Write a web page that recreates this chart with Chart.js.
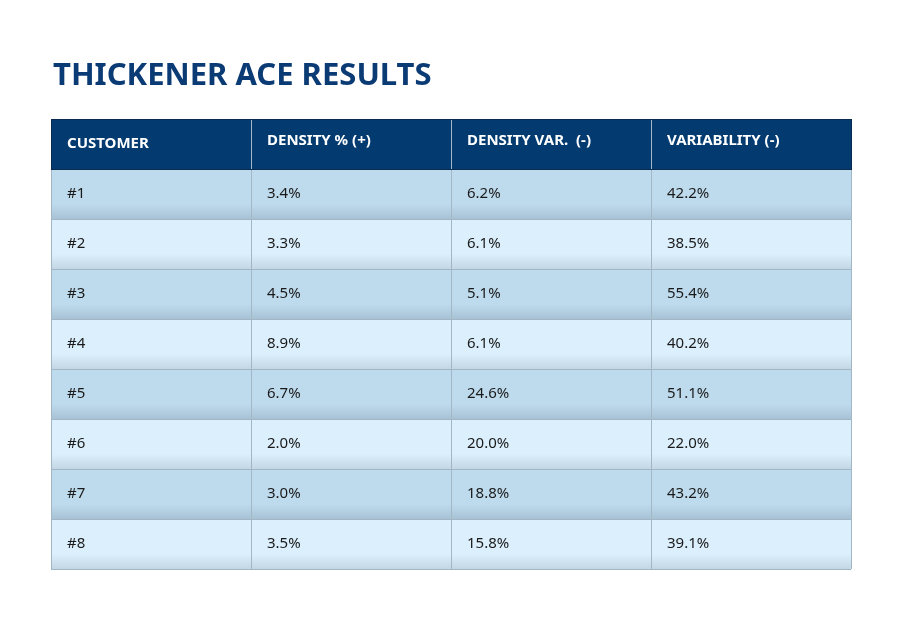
<!DOCTYPE html>
<html>
<head>
<meta charset="utf-8">
<script src="https://cdn.jsdelivr.net/npm/chart.js@4"></script>
<style>
  html, body { margin: 0; padding: 0; background: #fff; }
  #wrap { width: 900px; height: 625px; position: relative; }
</style>
</head>
<body>
<div id="wrap"><canvas id="tbl" width="900" height="625"></canvas></div>
<script>
// table data
const title = 'THICKENER ACE RESULTS';
const headers = ['CUSTOMER', 'DENSITY % (+)', 'DENSITY VAR.  (-)', 'VARIABILITY (-)'];
const customers = ['#1', '#2', '#3', '#4', '#5', '#6', '#7', '#8'];
const densityPct = [3.4, 3.3, 4.5, 8.9, 6.7, 2.0, 3.0, 3.5];
const densityVar = [6.2, 6.1, 5.1, 6.1, 24.6, 20.0, 18.8, 15.8];
const variability = [42.2, 38.5, 55.4, 40.2, 51.1, 22.0, 43.2, 39.1];

const fmt = v => v.toFixed(1) + '%';
const rows = customers.map((c, i) => [c, fmt(densityPct[i]), fmt(densityVar[i]), fmt(variability[i])]);

// draws the header and cells through the chart's x/y scales
const tablePlugin = {
  id: 'tablePlugin',
  afterDraw(chart) {
    const ctx = chart.ctx;
    const xs = chart.scales.x, ys = chart.scales.y;
    const font = '"Noto Sans", "DejaVu Sans", sans-serif';
    ctx.save();

    // title
    ctx.fillStyle = '#0b3b74';
    ctx.font = 'bold 31px ' + font;
    ctx.textBaseline = 'alphabetic';
    ctx.fillText(title, 53, 85);

    const nCols = headers.length;
    for (let r = 0; r <= rows.length; r++) {
      const y0 = ys.getPixelForValue(r), y1 = ys.getPixelForValue(r + 1);
      for (let c = 0; c < nCols; c++) {
        const x0 = xs.getPixelForValue(c), x1 = xs.getPixelForValue(c + 1);
        if (r === 0) {
          ctx.fillStyle = '#033a70';
        } else {
          const g = ctx.createLinearGradient(0, y0, 0, y1);
          const base = r % 2 ? '#bedbed' : '#dbeffc';
          const dark = r % 2 ? '#a7c2d4' : '#c2d6e3';
          g.addColorStop(0, base);
          g.addColorStop(0.7, base);
          g.addColorStop(1, dark);
          ctx.fillStyle = g;
        }
        ctx.fillRect(x0, y0, x1 - x0, y1 - y0);

        ctx.fillStyle = r === 0 ? '#ffffff' : '#1a1a1a';
        ctx.font = (r === 0 ? 'bold 15px ' : '15px ') + font;
        ctx.textBaseline = 'middle';
        const txt = r === 0 ? headers[c] : rows[r - 1][c];
        const yOff = r === 0 && c > 0 ? -3 : 0;
        ctx.fillText(txt, x0 + 16, (y0 + y1) / 2 + yOff);
      }
    }

    // grid lines
    ctx.strokeStyle = '#a3b6c6';
    ctx.lineWidth = 1;
    for (let c = 0; c <= nCols; c++) {
      const x = Math.round(xs.getPixelForValue(c)) + 0.5;
      ctx.beginPath();
      ctx.moveTo(x, ys.getPixelForValue(0));
      ctx.lineTo(x, ys.getPixelForValue(rows.length + 1));
      ctx.stroke();
    }
    for (let r = 0; r <= rows.length + 1; r++) {
      const y = Math.round(ys.getPixelForValue(r)) + 0.5;
      ctx.beginPath();
      ctx.moveTo(xs.getPixelForValue(0), y);
      ctx.lineTo(xs.getPixelForValue(nCols), y);
      ctx.stroke();
    }
    ctx.strokeStyle = '#0a2a50';
    const hx = xs.getPixelForValue(0), hy = ys.getPixelForValue(0);
    ctx.strokeRect(hx + 0.5, hy + 0.5, xs.getPixelForValue(nCols) - hx, ys.getPixelForValue(1) - hy);
    ctx.restore();
  }
};

new Chart(document.getElementById('tbl'), {
  type: 'scatter',
  data: { datasets: [{ data: [] }] },
  options: {
    responsive: false,
    animation: false,
    layout: { padding: { left: 51, right: 49, top: 119, bottom: 56 } },
    plugins: { legend: { display: false }, tooltip: { enabled: false } },
    scales: {
      x: { type: 'linear', min: 0, max: headers.length, display: false },
      y: { type: 'linear', min: 0, max: rows.length + 1, reverse: true, display: false }
    }
  },
  plugins: [tablePlugin]
});
</script>
</body>
</html>
